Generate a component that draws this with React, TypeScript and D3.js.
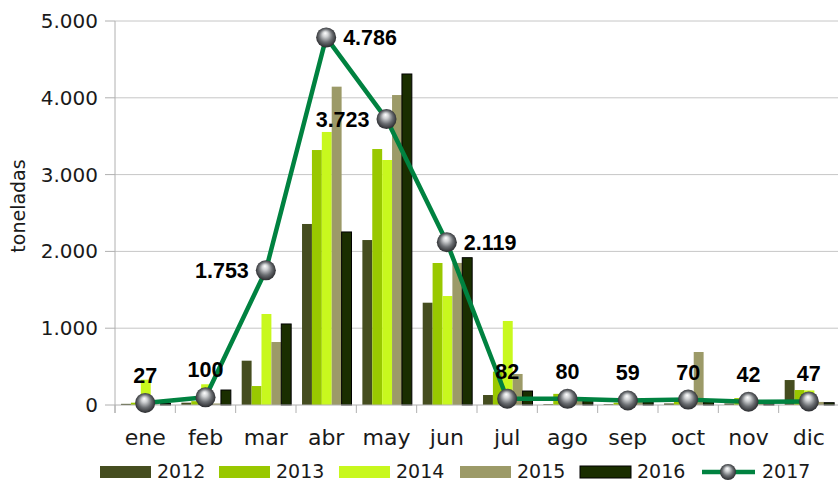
import React from "react";
import * as d3 from "d3";

const months = ["ene", "feb", "mar", "abr", "may", "jun", "jul", "ago", "sep", "oct", "nov", "dic"];
const barSeries = ["2012", "2013", "2014", "2015", "2016"];
const v2012 = [15, 30, 577, 2357, 2148, 1332, 130, 10, 10, 20, 20, 325];
const v2013 = [30, 50, 247, 3320, 3333, 1849, 435, 145, 30, 40, 90, 195];
const v2014 = [330, 270, 1185, 3555, 3190, 1419, 1094, 80, 30, 30, 60, 190];
const v2015 = [5, 20, 820, 4145, 4036, 1850, 404, 60, 40, 690, 30, 40];
const v2016 = [20, 195, 1055, 2253, 4310, 1918, 182, 60, 40, 40, 30, 30];
const v2017 = [27, 100, 1753, 4786, 3723, 2119, 82, 80, 59, 70, 42, 47];
const yTicks = [0, 1000, 2000, 3000, 4000, 5000];
const labelPos = ["top", "top", "left", "right", "left", "right", "top", "top", "top", "top", "top", "top"];

const seriesValues = [v2012, v2013, v2014, v2015, v2016];
const colors = ["#454d1f", "#99c800", "#c8f81e", "#9c9a68", "#1a2e00"];
const lineColor = "#008240";

const fmt = (v: number) => d3.format(",")(v).replace(/,/g, ".");

export default function App() {
  const W = 838, H = 484;
  const x0 = d3.scaleBand<string>().domain(months).range([115, 839]).padding(0);
  const bw = x0.bandwidth();
  const x1 = d3.scaleBand<string>().domain(barSeries).range([bw * 0.1, bw * 0.92]).padding(0);
  const y = d3.scaleLinear().domain([0, 5000]).range([405, 21]);
  const cx = (m: string) => (x0(m) as number) + bw / 2;
  const line = d3.line<number>().x((_, i) => cx(months[i])).y((d) => y(d));
  const font = "DejaVu Sans, sans-serif";
  const legendX = [100, 219, 339, 460, 580, 702];

  return (
    <svg width={W} height={H} style={{ position: "absolute", left: 0, top: 0, background: "#fff" }}>
      <defs>
        <radialGradient id="ball" cx="0.5" cy="0.5" r="0.55" fx="0.45" fy="0.28">
          <stop offset="0" stopColor="#ffffff" />
          <stop offset="0.25" stopColor="#d0d2d4" />
          <stop offset="0.6" stopColor="#6b6e72" />
          <stop offset="1" stopColor="#1e1f22" />
        </radialGradient>
      </defs>
      {yTicks.map((t) => (
        <g key={t}>
          {t > 0 && <line x1={115} x2={W} y1={y(t)} y2={y(t)} stroke="#c6c6c6" strokeWidth={1} />}
          <line x1={105} x2={115} y1={y(t)} y2={y(t)} stroke="#b0b0b0" strokeWidth={1} />
          <text x={98} y={y(t) + 7} textAnchor="end" fontFamily={font} fontSize={20} fill="#1a1a1a">
            {fmt(t)}
          </text>
        </g>
      ))}
      <line x1={115} x2={115} y1={21} y2={413} stroke="#b0b0b0" strokeWidth={1} />
      <text transform="translate(25,206) rotate(-90)" textAnchor="middle" fontFamily={font} fontSize={19} fill="#1a1a1a">
        toneladas
      </text>
      {seriesValues.map((vals, si) =>
        vals.map((v, i) => (
          <rect
            key={`${si}-${i}`}
            x={(x0(months[i]) as number) + (x1(barSeries[si]) as number)}
            y={y(v)}
            width={x1.bandwidth()}
            height={405 - y(v)}
            fill={colors[si]}
            stroke={si === 4 ? "#000" : "none"}
            strokeWidth={si === 4 ? 1 : 0}
          />
        ))
      )}
      <line x1={115} x2={W} y1={405} y2={405} stroke="#b0b0b0" strokeWidth={1} />
      {months.map((m) => (
        <g key={m}>
          <line x1={(x0(m) as number)} x2={(x0(m) as number)} y1={405} y2={413} stroke="#b0b0b0" />
          <text x={cx(m)} y={445} textAnchor="middle" fontFamily={font} fontSize={22} fill="#1a1a1a">
            {m}
          </text>
        </g>
      ))}
      <path d={line(v2017) || ""} fill="none" stroke={lineColor} strokeWidth={4.5} strokeLinejoin="round" />
      {v2017.map((v, i) => (
        <circle key={i} cx={cx(months[i])} cy={y(v)} r={10} fill="url(#ball)" />
      ))}
      {v2017.map((v, i) => {
        const pos = labelPos[i];
        const px = cx(months[i]);
        const py = y(v);
        let tx = px, ty = py - 20, anchor: "middle" | "start" | "end" = "middle";
        if (pos === "right") { tx = px + 17; ty = py + 8; anchor = "start"; }
        if (pos === "left") { tx = px - 17; ty = py + 8; anchor = "end"; }
        return (
          <text key={i} x={tx} y={ty} textAnchor={anchor} fontFamily="Liberation Sans, Arial, sans-serif" fontWeight="bold" fontSize={21.5} fill="#000">
            {fmt(v)}
          </text>
        );
      })}
      {barSeries.map((s, si) => (
        <g key={s}>
          <rect x={legendX[si]} y={466} width={51} height={12} fill={colors[si]} stroke={si === 4 ? "#000" : "none"} />
          <text x={legendX[si] + 57} y={478} fontFamily={font} fontSize={19} fill="#1a1a1a">{s}</text>
        </g>
      ))}
      <g>
        <line x1={legendX[5]} x2={legendX[5] + 53} y1={472} y2={472} stroke={lineColor} strokeWidth={4.5} />
        <circle cx={legendX[5] + 26} cy={472} r={8} fill="url(#ball)" />
        <text x={legendX[5] + 60} y={478} fontFamily={font} fontSize={19} fill="#1a1a1a">2017</text>
      </g>
    </svg>
  );
}
